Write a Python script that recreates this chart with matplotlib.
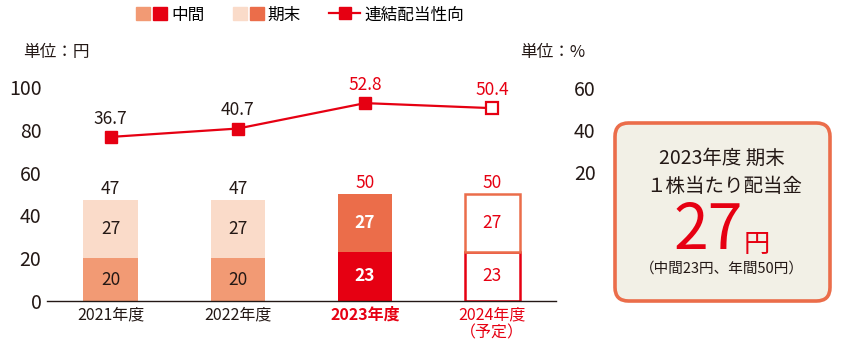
import matplotlib.pyplot as plt
from matplotlib.patches import FancyBboxPatch, Patch
from matplotlib.lines import Line2D
from matplotlib.legend_handler import HandlerTuple

plt.rcParams['font.family'] = ['Noto Sans CJK JP', 'DejaVu Sans']

years = ["2021年度", "2022年度", "2023年度", "2024年度\n（予定）"]
interim = [20, 20, 23, 23]
year_end = [27, 27, 27, 27]
totals = [47, 47, 50, 50]
payout = [36.7, 40.7, 52.8, 50.4]

DARK = "#231815"
RED = "#E60012"
ORANGE = "#EB6D4A"
LIGHT_ORANGE = "#F29A74"
PALE = "#FADBC9"

interim_face = [LIGHT_ORANGE, LIGHT_ORANGE, RED, "white"]
end_face = [PALE, PALE, ORANGE, "white"]
interim_edge = [LIGHT_ORANGE, LIGHT_ORANGE, RED, RED]
end_edge = [PALE, PALE, ORANGE, ORANGE]
inner_color = [DARK, DARK, "white", RED]
total_color = [DARK, DARK, RED, RED]
tick_color = [DARK, DARK, RED, RED]
pay_color = [DARK, DARK, RED, RED]

W, H = 846, 351
fig = plt.figure(figsize=(W / 100, H / 100), dpi=100)
ax = fig.add_axes([47 / W, (H - 301) / H, 509 / W, 214 / H])
x = list(range(len(years)))
w = 0.43

for i in x:
    lw = 1.8 if i == 3 else 0
    ax.bar(i, interim[i], w, color=interim_face[i], edgecolor=interim_edge[i], linewidth=lw, zorder=2)
    ax.bar(i, year_end[i], w, bottom=interim[i], color=end_face[i], edgecolor=end_edge[i], linewidth=lw, zorder=2)
    bold = "bold" if i == 2 else "normal"
    ax.text(i, interim[i] / 2, str(interim[i]), ha="center", va="center", fontsize=12.5, color=inner_color[i], fontweight=bold)
    ax.text(i, interim[i] + year_end[i] / 2, str(year_end[i]), ha="center", va="center", fontsize=12.5, color=inner_color[i], fontweight=bold)
    ax.annotate(str(totals[i]), (i, totals[i]), xytext=(0, 8), textcoords="offset points",
                ha="center", va="center", fontsize=12.5, color=total_color[i])

ax.set_xlim(-0.5, 3.5)
ax.set_ylim(0, 100)
ax.set_yticks([0, 20, 40, 60, 80, 100])
ax.set_xticks(x)
ax.set_xticklabels(years, fontsize=11.5, linespacing=1.05)
for lab, c in zip(ax.get_xticklabels(), tick_color):
    lab.set_color(c)
ax.get_xticklabels()[2].set_fontweight("bold")
ax.tick_params(axis="x", length=0, pad=4)
ax.tick_params(axis="y", length=0, labelsize=14, labelcolor=DARK, pad=4)
for s in ["top", "right", "left"]:
    ax.spines[s].set_visible(False)
ax.spines["bottom"].set_color(DARK)
ax.spines["bottom"].set_linewidth(1.0)

ax2 = ax.twinx()
ax2.set_ylim(60 - 213 / 2.1, 60 + 1 / 2.1)
ax2.set_yticks([20, 40, 60])
ax2.tick_params(axis="y", length=0, labelsize=14, labelcolor=DARK, pad=13)
for s in ax2.spines.values():
    s.set_visible(False)
ax2.plot(x, payout, color=RED, lw=1.6, zorder=3)
ax2.plot(x[:3], payout[:3], "s", color=RED, ms=8.5, zorder=4)
ax2.plot(x[3], payout[3], "s", mfc="white", mec=RED, mew=1.6, ms=8.5, zorder=4)
for i in x:
    ax2.annotate(f"{payout[i]}", (i, payout[i]), xytext=(0, 13), textcoords="offset points",
                 ha="center", va="center", fontsize=12.5, color=pay_color[i])

fig.text(23 / W, 1 - 53 / H, "単位：円", fontsize=12, color=DARK, va="center")
fig.text(520 / W, 1 - 53 / H, "単位：%", fontsize=12, color=DARK, va="center")

# legend
handles = [
    (Patch(color=LIGHT_ORANGE), Patch(color=RED)),
    (Patch(color=PALE), Patch(color=ORANGE)),
    Line2D([0], [0], color=RED, lw=1.6, marker="s", ms=9),
]
fig.legend(handles, ["中間", "期末", "連結配当性向"], loc="center", bbox_to_anchor=(300 / W, 1 - 15 / H),
           ncol=3, frameon=False, fontsize=12, handler_map={tuple: HandlerTuple(ndivide=None, pad=0.18)},
           handlelength=1.86, handleheight=0.85, columnspacing=1.7, handletextpad=0.25,
           borderpad=0, borderaxespad=0)

# info box
box = FancyBboxPatch((615 / W, 1 - 301 / H), 215 / W, 178 / H,
                     boxstyle="round,pad=0,rounding_size=0.016", transform=fig.transFigure,
                     facecolor="#F2F0E6", edgecolor=ORANGE, linewidth=2.6,
                     mutation_aspect=W / H)
fig.patches.append(box)
fig.text(722 / W, 1 - 158 / H, "2023年度 期末", ha="center", va="center", fontsize=14, color=DARK)
fig.text(724 / W, 1 - 186 / H, "１株当たり配当金", ha="center", va="center", fontsize=14, color=DARK)
fig.text(743 / W, 1 - 231 / H, "27", ha="right", va="center", fontsize=45, color=RED)
fig.text(744 / W, 1 - 244 / H, "円", ha="left", va="center", fontsize=19, color=RED)
fig.text(722 / W, 1 - 269 / H, "（中間23円、年間50円）", ha="center", va="center", fontsize=10.5, color=DARK)

fig.savefig("out.png", dpi=100)
